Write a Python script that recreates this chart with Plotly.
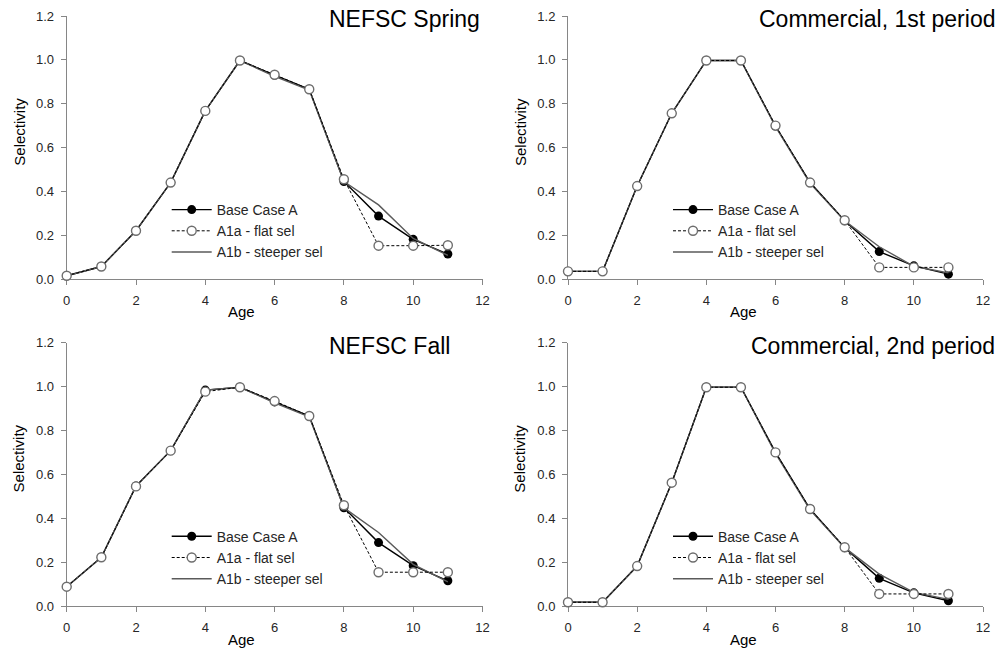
import plotly.graph_objects as go

ages = list(range(12))

panel_titles = ["NEFSC Spring", "Commercial, 1st period", "NEFSC Fall", "Commercial, 2nd period"]
series_names = ["Base Case A", "A1a - flat sel", "A1b - steeper sel"]

spring_base = [0.015, 0.057, 0.22, 0.44, 0.767, 0.997, 0.93, 0.866, 0.445, 0.287, 0.181, 0.114]
spring_a1a  = [0.015, 0.057, 0.22, 0.44, 0.767, 0.997, 0.932, 0.866, 0.455, 0.152, 0.152, 0.154]
spring_a1b  = [0.015, 0.057, 0.22, 0.44, 0.767, 0.997, 0.925, 0.862, 0.445, 0.338, 0.185, 0.108]

comm1_base = [0.035, 0.035, 0.424, 0.756, 0.997, 0.997, 0.698, 0.44, 0.266, 0.125, 0.06, 0.022]
comm1_a1a  = [0.035, 0.035, 0.424, 0.756, 0.997, 0.997, 0.700, 0.44, 0.268, 0.053, 0.053, 0.053]
comm1_a1b  = [0.035, 0.035, 0.424, 0.756, 0.997, 0.997, 0.695, 0.436, 0.266, 0.147, 0.058, 0.028]

fall_base = [0.088, 0.222, 0.547, 0.708, 0.984, 0.997, 0.93, 0.866, 0.448, 0.289, 0.184, 0.115]
fall_a1a  = [0.088, 0.222, 0.545, 0.708, 0.977, 0.997, 0.934, 0.866, 0.459, 0.154, 0.154, 0.154]
fall_a1b  = [0.088, 0.222, 0.547, 0.708, 0.984, 0.997, 0.926, 0.862, 0.448, 0.335, 0.19, 0.11]

comm2_base = [0.017, 0.017, 0.182, 0.562, 0.997, 0.997, 0.70, 0.442, 0.266, 0.126, 0.06, 0.024]
comm2_a1a  = [0.017, 0.017, 0.182, 0.562, 0.997, 0.997, 0.70, 0.442, 0.268, 0.055, 0.055, 0.055]
comm2_a1b  = [0.017, 0.017, 0.182, 0.562, 0.997, 0.997, 0.695, 0.438, 0.266, 0.145, 0.062, 0.03]

panels = [
    (spring_base, spring_a1a, spring_a1b),
    (comm1_base, comm1_a1a, comm1_a1b),
    (fall_base, fall_a1a, fall_a1b),
    (comm2_base, comm2_a1a, comm2_a1b),
]

x_ticks = [0, 2, 4, 6, 8, 10, 12]
y_ticks = [0.0, 0.2, 0.4, 0.6, 0.8, 1.0, 1.2]

W, H = 1000, 648
# plot-area pixel boxes (left, right, top, bottom)
boxes = [(66.7, 482.5, 16, 279), (568, 983, 16, 279),
         (66.7, 482.5, 342.7, 606), (568, 983, 342.7, 606)]

FONT = "Liberation Sans, Arial, sans-serif"
AXC = "#868686"
TXT = "#262626"

fig = go.Figure()
layout = dict(width=W, height=H,
              margin=dict(l=0, r=0, t=0, b=0, autoexpand=False),
              paper_bgcolor="white", plot_bgcolor="white", showlegend=True,
              font=dict(family=FONT, color=TXT))
annotations = []

for i, (base, a1a, a1b) in enumerate(panels):
    k = i + 1
    xa = "x" if k == 1 else f"x{k}"
    ya = "y" if k == 1 else f"y{k}"
    lg = "legend" if k == 1 else f"legend{k}"
    L, R, T, B = boxes[i]
    layout[("xaxis" if k == 1 else f"xaxis{k}")] = dict(
        domain=[L / W, R / W], anchor=ya, range=[0, 12], tickvals=x_ticks,
        showgrid=False, zeroline=False, showline=True, linecolor=AXC, linewidth=1,
        ticks="outside", ticklen=5, tickcolor=AXC, tickwidth=1, layer="below traces",
        tickfont=dict(size=13, color=TXT, family=FONT), ticklabelstandoff=4,
        automargin=False)
    layout[("yaxis" if k == 1 else f"yaxis{k}")] = dict(
        domain=[1 - B / H, 1 - T / H], anchor=xa, range=[0, 1.2], tickvals=y_ticks,
        tickformat=".1f", showgrid=False, zeroline=False, showline=True, linecolor=AXC,
        linewidth=1, ticks="outside", ticklen=5, tickcolor=AXC, tickwidth=1,
        layer="below traces", tickfont=dict(size=13, color=TXT, family=FONT),
        ticklabelstandoff=4, automargin=False)

    fig.add_trace(go.Scatter(x=ages, y=base, xaxis=xa, yaxis=ya, legend=lg,
                             name=series_names[0], legendrank=1, mode="lines+markers",
                             line=dict(color="black", width=1.4),
                             marker=dict(symbol="circle", size=9, color="black"),
                             cliponaxis=False))
    fig.add_trace(go.Scatter(x=ages, y=a1b, xaxis=xa, yaxis=ya, legend=lg,
                             name=series_names[2], legendrank=3, mode="lines",
                             line=dict(color="#5a5a5a", width=1.4), cliponaxis=False))
    fig.add_trace(go.Scatter(x=ages, y=a1a, xaxis=xa, yaxis=ya, legend=lg,
                             name=series_names[1], legendrank=2, mode="lines+markers",
                             line=dict(color="black", width=1, dash="3px,2px"),
                             marker=dict(symbol="circle", size=9, color="white",
                                         line=dict(color="#6e6e6e", width=1.4)),
                             cliponaxis=False))

    layout[lg] = dict(x=(L + 100) / W, y=1 - (T + 178) / H, xanchor="left", yanchor="top",
                      bgcolor="rgba(0,0,0,0)", borderwidth=0, itemwidth=40,
                      font=dict(size=14, color=TXT, family=FONT), tracegroupgap=0,
                      traceorder="normal")

    # panel title
    if i % 2 == 0:
        annotations.append(dict(text=panel_titles[i], x=327 / W, y=1 - (T - 12) / H,
                                xref="paper", yref="paper", xanchor="left", yanchor="top",
                                showarrow=False, font=dict(size=23, color="black", family=FONT)))
    else:
        annotations.append(dict(text=panel_titles[i], x=997 / W, y=1 - (T - 12) / H,
                                xref="paper", yref="paper", xanchor="right", yanchor="top",
                                showarrow=False, font=dict(size=23, color="black", family=FONT)))
    # axis titles
    annotations.append(dict(text="Selectivity", x=(L - 48) / W, y=1 - (T + 116) / H,
                            xref="paper", yref="paper", xanchor="center", yanchor="middle",
                            textangle=-90, showarrow=False,
                            font=dict(size=15, color="black", family=FONT)))
    annotations.append(dict(text="Age", x=(L + 175) / W, y=1 - (B + 33) / H,
                            xref="paper", yref="paper", xanchor="center", yanchor="middle",
                            showarrow=False, font=dict(size=15, color="black", family=FONT)))

layout["annotations"] = annotations
fig.update_layout(**layout)
fig.write_html("out.html")
